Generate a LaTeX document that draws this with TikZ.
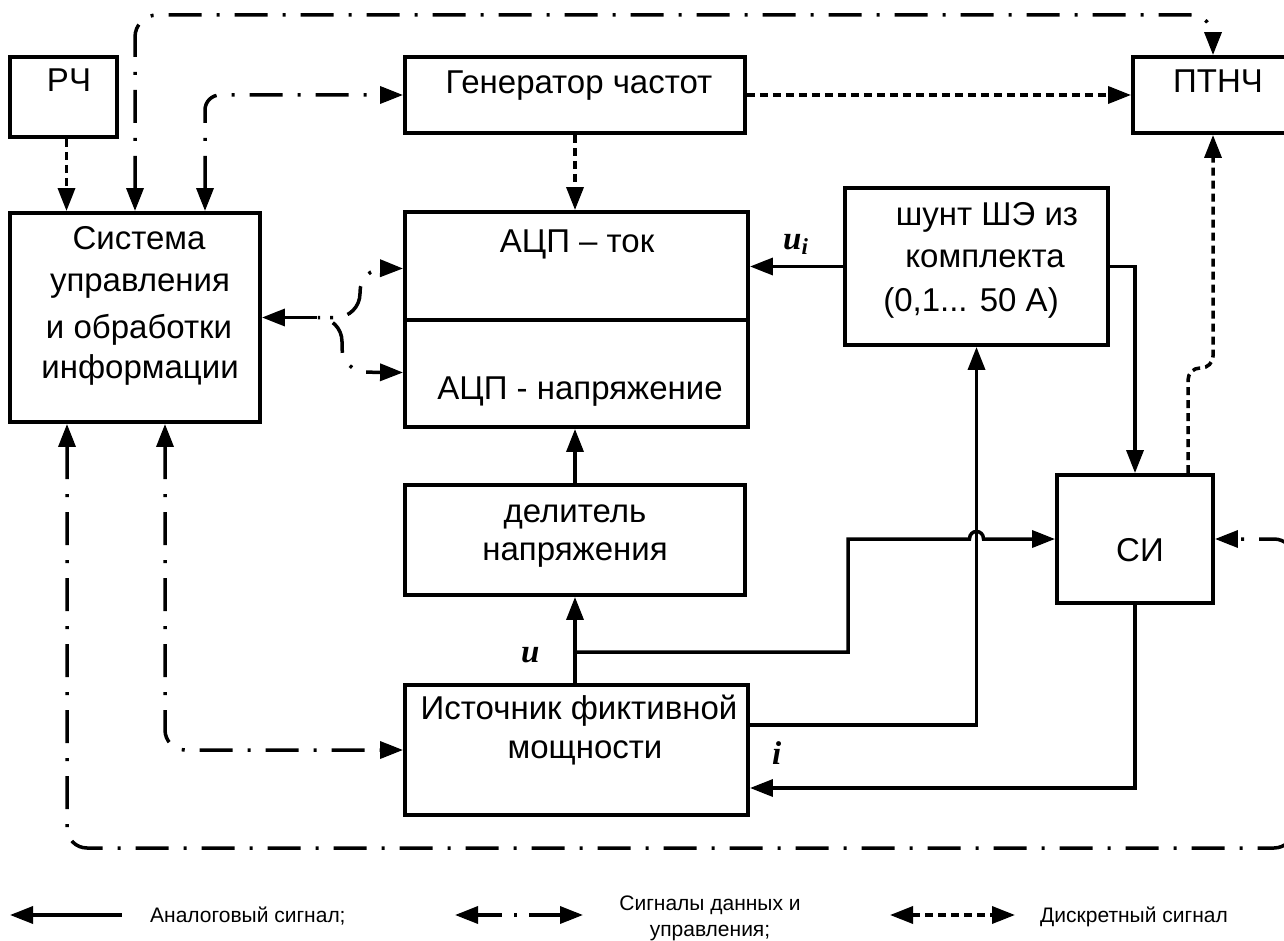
\documentclass[tikz,border=0pt]{standalone}
\usepackage{fontspec}
\setmainfont{Liberation Sans}
\newfontfamily\legfont{Liberation Sans}
\newfontfamily\lblfont{Liberation Serif}
\usetikzlibrary{arrows.meta}
\tikzset{
  >={Triangle[length=23pt,width=17pt]},
  box/.style={draw, line width=3.9pt, inner sep=0pt},
  an/.style={line width=3.5pt},
  data/.style={line width=3.5pt, dash pattern=on 33pt off 15pt on 3pt off 15pt},
  disc/.style={line width=3.5pt, dash pattern=on 8pt off 5pt},
  txt/.style={font=\fontsize{33}{38}\selectfont, inner sep=0pt, anchor=base},
  leg/.style={font=\legfont\fontsize{21}{24}\selectfont, inner sep=0pt, anchor=base},
  lbl/.style={font=\lblfont\bfseries\itshape\fontsize{33}{36}\selectfont, inner sep=0pt, anchor=base west}
}
\begin{document}
\begin{tikzpicture}[x=1pt,y=-1pt]
\useasboundingbox (0,0) rectangle (1284,941);
\clip (0,0) rectangle (1284,941);

% boxes
\node[box, minimum width=107pt, minimum height=80pt] (rch) at (63.5,97) {};
\node[box, minimum width=250pt, minimum height=209pt] (sys) at (135,317.5) {};
\node[box, minimum width=340pt, minimum height=76pt] (gen) at (575,95) {};
\node[box, minimum width=160pt, minimum height=76pt] (ptnch) at (1213,95) {};
\node[box, minimum width=343pt, minimum height=215pt] (adc) at (576.5,319.5) {};
\node[box, minimum width=263pt, minimum height=157pt] (shunt) at (976.5,266.5) {};
\node[box, minimum width=340pt, minimum height=110pt] (del) at (575,540) {};
\node[box, minimum width=156pt, minimum height=128pt] (si) at (1135,539) {};
\node[box, minimum width=343pt, minimum height=130pt] (ist) at (576.5,750) {};

\coordinate (dv) at (0,320);
\draw[line width=4.5pt] (adc.west |- dv) -- (adc.east |- dv);

% texts
\node[txt] (trch) at (69,92) {РЧ};
\node[txt] (ts1) at (139,250) {Система};
\node[txt] (ts2) at (140,291) {управления};
\node[txt] (ts3) at (139,338) {и обработки};
\node[txt] (ts4) at (140,378) {информации};
\node[txt] (tgen) at (579,94) {Генератор частот};
\node[txt] (tpt) at (1218,93) {ПТНЧ};
\node[txt] (tadc1) at (577,253) {АЦП – ток};
\node[txt] (tadc2) at (580,399) {АЦП - напряжение};
\node[txt] (tsh1) at (987,226) {шунт ШЭ из};
\node[txt] (tsh2) at (985,267) {комплекта};
\node[txt] (tsh3) at (971,311) {(0,1... 50 А)};
\node[txt] (tdel1) at (575,522) {делитель};
\node[txt] (tdel2) at (575,560) {напряжения};
\node[txt] (tsi) at (1140,561) {СИ};
\node[txt] (tist1) at (579,719) {Источник фиктивной};
\node[txt] (tist2) at (585,758) {мощности};

% labels
\node[lbl] (lui) at (783,250) {u\raisebox{-5pt}{\fontsize{23}{23}\selectfont i}};
\node[lbl] (lu) at (521,662) {u};
\node[lbl] (li) at (772,764) {i};

% discrete connectors
\draw[disc,->] ([xshift=3pt]rch.south) -- ([xshift=3pt]rch.south |- sys.north);
\draw[disc,->] (gen.south) -- (gen.south |- adc.north);
\draw[disc,->] (gen.east) -- (gen.east -| ptnch.west);
\coordinate (j1) at (1188,368);
\coordinate (j2) at (1213,355);
\draw[disc,->,rounded corners=12pt] ([xshift=53pt]si.north) -- (j1) -- (j1 -| j2) -- (j2 |- ptnch.south);

% data connectors
\coordinate (t1) at (135,15);
\coordinate (t2) at (1213,15);
\draw[data,<->,rounded corners=22pt] (sys.north) -- (t1) -- (t2) -- (ptnch.north);
\draw[data,<->,rounded corners=15pt] ([xshift=70pt]sys.north) |- (gen.west);
\coordinate (sp) at (330,317.5);
\coordinate (cu) at (360,268);
\coordinate (cl) at (342,372);
\draw[data,<-] (sys.east) -- (sp);
\draw[data,dash phase=48pt,->,rounded corners=24pt] (sp) -- (cu |- sp) -- (cu) -- ([yshift=51pt]adc.west);
\draw[data,dash phase=38pt,->,rounded corners=24pt] (sp) -- (cl |- sp) -- (cl) -- ([yshift=-53pt]adc.west);
\coordinate (br) at (1294,848);
\draw[data,<->,rounded corners=20pt] ([xshift=-68pt]sys.south) |- (br) |- (si.east);
\draw[data,<->,rounded corners=20pt] ([xshift=30pt]sys.south) |- (ist.west);

% analog connectors
\draw[an,->] (shunt.west) -- (shunt.west -| adc.east);
\draw[an,->] (shunt.east) -| (si.north);
\draw[an,->] (del.north) -- (del.north |- adc.south);
\draw[an,->] (del.south |- ist.north) -- (del.south);
\coordinate (ujunc) at (575,652);
\coordinate (ubend) at (848,652);
\coordinate (hop) at (shunt.south |- si.west);
\draw[an,->] (ujunc) -- (ubend) |- ([xshift=-7pt]hop) .. controls ([xshift=-7pt,yshift=10pt]hop) and ([xshift=7pt,yshift=10pt]hop) .. ([xshift=7pt]hop) -- (si.west);
\draw[an,->] ([yshift=25pt]ist.east) -| (shunt.south);
\draw[an,->] (si.south) |- ([yshift=-38pt]ist.east);

% legend
\coordinate (la1) at (10,915);
\coordinate (la2) at (122,915);
\draw[an,<-] (la1) -- (la2);
\node[leg, anchor=base west] (lt1) at (150,922) {Аналоговый сигнал;};
\coordinate (ld1) at (455,915);
\coordinate (ld2) at (583,915);
\draw[line width=3.5pt, dash pattern=on 25pt off 12pt on 3pt off 12pt on 40pt, <->] (ld1) -- (ld2);
\node[leg] (lt2) at (710,910) {Сигналы данных и};
\node[leg] (lt3) at (710,936) {управления;};
\coordinate (lc1) at (890,915);
\coordinate (lc2) at (1015,915);
\draw[disc,<->] (lc1) -- (lc2);
\node[leg, anchor=base west] (lt4) at (1040,922) {Дискретный сигнал};
\end{tikzpicture}
\end{document}
